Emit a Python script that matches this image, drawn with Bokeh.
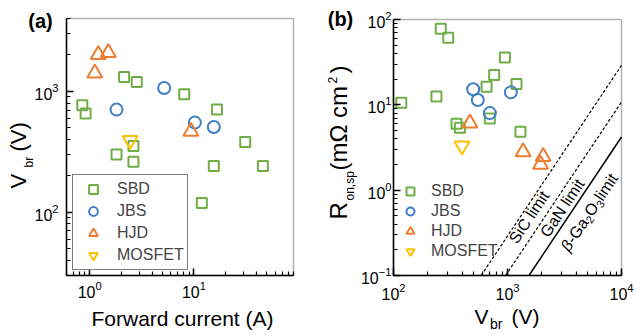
import math
from bokeh.plotting import figure
from bokeh.layouts import row
from bokeh.models import Label, Range1d, BoxAnnotation
from bokeh.embed import file_html
from bokeh.resources import INLINE

# ---------------- data: panel (a) ----------------
a_sbd_I = [0.85, 0.915, 2.14, 2.83, 8.07, 16.6, 1.81, 2.63, 2.63, 31.0, 15.5, 45.8, 11.9]
a_sbd_V = [766, 654, 1313, 1194, 944, 706, 301, 353, 262, 381, 241, 241, 119]
a_jbs_I = [1.81, 5.18, 10.2, 15.5]
a_jbs_V = [706, 1065, 551, 507]
a_hjd_I = [1.21, 1.51, 1.12, 9.35]
a_hjd_V = [2010, 2090, 1416, 467]
a_mos_I = [2.44]
a_mos_V = [394]

# ---------------- data: panel (b) ----------------
b_sbd_V = [117, 260, 302, 238, 357, 382, 655, 764, 948, 1200, 700, 1300]
b_sbd_R = [10.6, 78, 61, 12.5, 6.0, 5.4, 16.3, 22.3, 35.9, 17.5, 6.9, 4.85]
b_jbs_V = [500, 549, 700, 1070]
b_jbs_R = [15.2, 11.4, 8.0, 14.0]
b_hjd_V = [468, 1370, 2055, 1950]
b_hjd_R = [6.1, 2.8, 2.47, 2.0]
b_mos_V = [399]
b_mos_R = [3.3]

# unipolar limit lines: R_on = k * V^2  (mOhm cm^2, V)
limit_names = ["SiC limit", "GaN limit", "\u03b2-Ga2O3 limit"]
limit_k = [2.9e-7, 1.08e-7, 4.2e-8]
# pieces of the Ga2O3 label: (text, is_subscript, italic)
ga2o3_pieces = [("\u03b2", False, True), ("-Ga", False, False), ("2", True, False),
                ("O", False, False), ("3", True, False), (" limit", False, False)]

series_names = ["SBD", "JBS", "HJD", "MOSFET"]
colors = ["#70AD47", "#3F7EC6", "#ED7D31", "#FFC000"]
markers = ["square", "circle", "triangle", "inverted_triangle"]
msizes = [10, 12, 15, 15]

FONT = "Liberation Sans"

# axis extents (data)
A_RX = (0.6, 90.0)
A_RY = (30.0, 4000.0)
B_RX = (100.0, 10000.0)
B_RY = (0.1, 100.0)

# ---------------- layout geometry (canvas pixels) ----------------
H = 334
A_W, B_W = 318, 317
A_OFF, B_OFF = 0, 318               # canvas x offset on the page
A_BOX = (66, 18, 293, 275)          # page px: left, top, right, bottom of plot box
B_BOX = (393, 19, 621, 275)


class Geo:
    def __init__(self, box, off, w, rx, ry):
        l, t, r, b = box
        self.l, self.t, self.r, self.b = l - off, t, r - off, b
        self.off, self.w, self.rx, self.ry = off, w, rx, ry
        self.lx0, self.lx1 = math.log10(rx[0]), math.log10(rx[1])
        self.ly0, self.ly1 = math.log10(ry[0]), math.log10(ry[1])
        self.px = (self.lx1 - self.lx0) / (self.r - self.l)
        self.py = (self.ly1 - self.ly0) / (self.b - self.t)

    def xrange(self):
        return Range1d(10 ** (self.lx0 - self.l * self.px),
                       10 ** (self.lx1 + (self.w - self.r) * self.px))

    def yrange(self):
        return Range1d(10 ** (self.ly0 - (H - self.b) * self.py),
                       10 ** (self.ly1 + self.t * self.py))

    def data(self, pxp, pyp):
        cx = pxp - self.off
        lx = self.lx0 + (cx - self.l) * self.px
        ly = self.ly1 - (pyp - self.t) * self.py
        return 10 ** lx, 10 ** ly


def make_fig(g, ystand, xstand):
    p = figure(width=g.w, height=H, x_axis_type="log", y_axis_type="log",
               x_range=g.xrange(), y_range=g.yrange(),
               output_backend="svg", toolbar_location=None,
               min_border=0, min_border_left=0, min_border_right=0,
               min_border_top=0, min_border_bottom=0)
    p.grid.visible = False
    p.outline_line_color = None
    p.background_fill_color = "white"
    p.border_fill_color = "white"
    xa, ya = p.xaxis[0], p.yaxis[0]
    xa.fixed_location = g.ry[0]
    xa.bounds = g.rx
    ya.fixed_location = g.rx[0]
    ya.bounds = g.ry
    for ax in (xa, ya):
        ax.axis_line_width = 1.5
        ax.major_tick_in = 7
        ax.major_tick_out = 0
        ax.minor_tick_in = 4
        ax.minor_tick_out = 0
        ax.major_tick_line_width = 1.5
        ax.minor_tick_line_width = 1.2
        ax.major_label_text_font = FONT
        ax.major_label_text_font_size = "16px"
        ax.major_label_text_color = "black"
    ya.major_label_standoff = ystand
    xa.major_label_standoff = xstand
    p.add_layout(BoxAnnotation(left=g.rx[0], right=g.rx[1], bottom=g.ry[0], top=g.ry[1],
                               fill_color=None, fill_alpha=0, line_color="black",
                               line_width=1.5, level="underlay"))
    return p


def lab(p, g, pos, text, size, angle=0, align="left", bold=False, italic=False):
    # pos is the centre line of the text box (baseline "middle")
    x, y = g.data(*pos)
    style = "bold" if bold else ("italic" if italic else "normal")
    p.add_layout(Label(x=x, y=y, text=text, text_font=FONT,
                       text_font_size=f"{size}px", angle=angle, angle_units="deg",
                       text_align=align, text_baseline="middle",
                       text_font_style=style, text_color="black"))


def hlab(p, g, x, baseline_y, text, size, align="left", bold=False):
    lab(p, g, (x, baseline_y - 0.35 * size), text, size, 0, align, bold)


def vlab(p, g, baseline_x, y, text, size):
    lab(p, g, (baseline_x - 0.35 * size, y), text, size, 90, "left")


# ---------------- panel (a) ----------------
ga = Geo(A_BOX, A_OFF, A_W, A_RX, A_RY)
pa = make_fig(ga, 8, 5)
for name, xs, ys, c, m, s in zip(series_names,
                                 [a_sbd_I, a_jbs_I, a_hjd_I, a_mos_I],
                                 [a_sbd_V, a_jbs_V, a_hjd_V, a_mos_V],
                                 colors, markers, msizes):
    pa.scatter(xs, ys, marker=m, size=s, line_color=c, line_width=2,
               fill_color=None, legend_label=name)

lg = pa.legend[0]
lg.location = (72, H - 270)
lg.padding = 3
lg.spacing = 0
lg.margin = 0
lg.glyph_width = 34
lg.glyph_height = 22
lg.label_height = 22
lg.label_standoff = 7
lg.label_text_font = FONT
lg.label_text_font_size = "16px"
lg.border_line_color = "black"
lg.border_line_width = 1
lg.background_fill_color = "white"
lg.background_fill_alpha = 1.0

lab(pa, ga, (40, 20), "(a)", 20, align="center", bold=True)
hlab(pa, ga, 182, 325.5, "Forward current (A)", 21, align="center")
vlab(pa, ga, 25.5, 188, "V", 22)
vlab(pa, ga, 33, 167, "br", 12)
vlab(pa, ga, 25.5, 151, "(V)", 22)

# ---------------- panel (b) ----------------
gb = Geo(B_BOX, B_OFF, B_W, B_RX, B_RY)
pb = make_fig(gb, 2, 7)

for name, k in zip(limit_names, limit_k):
    v_lo = max(B_RX[0], math.sqrt(B_RY[0] / k))
    v_hi = min(B_RX[1], math.sqrt(B_RY[1] / k))
    xs = [v_lo, v_hi]
    ys = [k * v * v for v in xs]
    if name.startswith("\u03b2"):
        pb.line(xs, ys, line_color="black", line_width=1.5)
    else:
        pb.line(xs, ys, line_color="black", line_width=1.2, line_dash="3 2")

for name, xs, ys, c, m, s in zip(series_names,
                                 [b_sbd_V, b_jbs_V, b_hjd_V, b_mos_V],
                                 [b_sbd_R, b_jbs_R, b_hjd_R, b_mos_R],
                                 colors, markers, msizes):
    pb.scatter(xs, ys, marker=m, size=s, line_color=c, line_width=2,
               fill_color=None, legend_label=name)

lgb = pb.legend[0]
lgb.location = (400 - B_OFF, H - 261)
lgb.padding = 0
lgb.spacing = 0
lgb.margin = 0
lgb.glyph_width = 20
lgb.glyph_height = 20
lgb.label_height = 20
lgb.label_standoff = 11
lgb.label_text_font = FONT
lgb.label_text_font_size = "16px"
lgb.border_line_alpha = 0
lgb.background_fill_alpha = 0

lab(pb, gb, (340, 18.5), "(b)", 20, align="center", bold=True)
# x label
hlab(pb, gb, 474, 323, "V", 21)
hlab(pb, gb, 489.5, 328, "br", 14)
hlab(pb, gb, 511, 323, "(V)", 21)
# y label
vlab(pb, gb, 346, 219, "R", 24)
vlab(pb, gb, 354, 200, "on,sp", 12)
vlab(pb, gb, 346, 170, "(m\u03a9 cm", 24)
vlab(pb, gb, 336, 83, "2", 12)
vlab(pb, gb, 346, 73, ")", 24)
# limit labels
ang = math.degrees(math.atan(2 * gb.px / gb.py))
lab(pb, gb, (528.5, 216.7), limit_names[0], 16, angle=ang, align="center")
lab(pb, gb, (561.8, 207.5), limit_names[1], 16, angle=ang, align="center")

# beta-Ga2O3 label, built from pieces along the rotated direction
MAIN, SUB = 16, 11
adv = {"\u03b2": 0.58, "-": 0.333, "G": 0.778, "a": 0.556, "O": 0.778, "2": 0.556,
       "3": 0.556, " ": 0.278, "l": 0.222, "i": 0.222, "m": 0.833, "t": 0.278}
widths = [sum(adv[ch] for ch in t) * (SUB if sub else MAIN) for t, sub, _ in ga2o3_pieces]
total = sum(widths)
th = math.radians(ang)
ux, uy = math.cos(th), -math.sin(th)      # along the text (page coords)
nx, ny = math.sin(th), math.cos(th)       # towards the text's "down"
cx0, cy0 = 590.0, 210.0                   # centre of the label on the page
sx, sy = cx0 - ux * total / 2, cy0 - uy * total / 2
s = 0.0
for (t, sub, it), w in zip(ga2o3_pieces, widths):
    d = 4.5 if sub else 0.0
    lab(pb, gb, (sx + ux * s + nx * d, sy + uy * s + ny * d), t,
        SUB if sub else MAIN, angle=ang, align="left", italic=it)
    s += w

layout = row(pa, pb)
open("out.html", "w").write(file_html(layout, INLINE))
